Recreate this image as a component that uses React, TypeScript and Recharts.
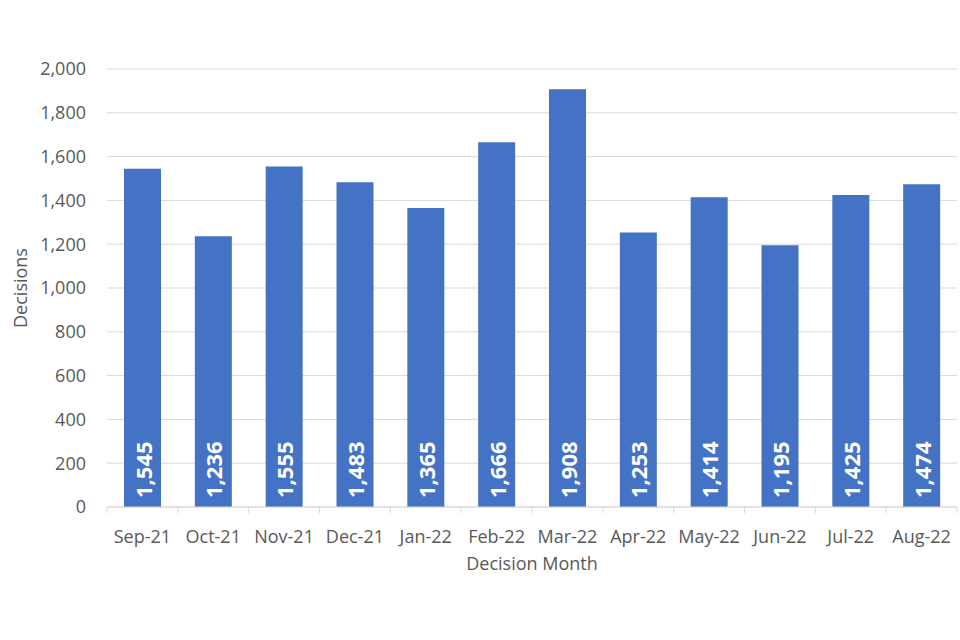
import React from 'react';
import { BarChart, Bar, XAxis, YAxis, CartesianGrid, LabelList } from 'recharts';

const months = ['Sep-21', 'Oct-21', 'Nov-21', 'Dec-21', 'Jan-22', 'Feb-22', 'Mar-22', 'Apr-22', 'May-22', 'Jun-22', 'Jul-22', 'Aug-22'];
const decisions = [1545, 1236, 1555, 1483, 1365, 1666, 1908, 1253, 1414, 1195, 1425, 1474];
const yTicks = [0, 200, 400, 600, 800, 1000, 1200, 1400, 1600, 1800, 2000];

const data = months.map((m, i) => ({ month: m, value: decisions[i] }));

const FONT = '"Open Sans", "Liberation Sans", sans-serif';
const TEXT = '#595959';
const GRID = '#d9d9d9';
const TICK_SIZE = 6;
const TICK_MARGIN = 17;
const fmt = (v: number) => v.toLocaleString('en-US');

const BarValue = (props: any) => {
  const { x, y, width, height, value } = props;
  const cx = x + width / 2;
  const by = y + height - 9;
  return (
    <text
      x={cx}
      y={by}
      transform={`rotate(-90 ${cx} ${by})`}
      textAnchor="start"
      dominantBaseline="central"
      fill="#ffffff"
      fontWeight="bold"
      fontSize={22}
      fontFamily={FONT}
    >
      {fmt(value)}
    </text>
  );
};

const MonthTick = (props: any) => {
  const { x, y, payload, index, visibleTicksCount } = props;
  const half = payload?.offset ?? 0;
  const axisY = y - TICK_SIZE - TICK_MARGIN;
  const last = index === (visibleTicksCount ?? months.length) - 1;
  return (
    <g>
      <line x1={x - half} x2={x - half} y1={axisY} y2={axisY + TICK_SIZE} stroke={GRID} />
      {last && <line x1={x + half} x2={x + half} y1={axisY} y2={axisY + TICK_SIZE} stroke={GRID} />}
      <text x={x} y={y} dy="0.71em" textAnchor="middle" fill={TEXT} fontSize={18} fontFamily={FONT}>
        {payload.value}
      </text>
    </g>
  );
};

export default function App() {
  return (
    <div style={{ position: 'absolute', left: 0, top: 0, background: '#fff' }}>
      <BarChart
        width={960}
        height={640}
        data={data}
        margin={{ top: 69, right: 3, bottom: 0, left: 0 }}
        barCategoryGap="24%"
      >
        <CartesianGrid vertical={false} stroke={GRID} strokeWidth={1} />
        <XAxis
          dataKey="month"
          tickLine={false}
          axisLine={{ stroke: GRID }}
          tickSize={TICK_SIZE}
          tickMargin={TICK_MARGIN}
          height={133}
          interval={0}
          tick={<MonthTick />}
          label={{
            value: 'Decision Month',
            position: 'insideTop',
            offset: 50,
            fill: TEXT,
            fontSize: 18,
            fontFamily: FONT,
          }}
        />
        <YAxis
          width={107}
          domain={[0, 2000]}
          ticks={yTicks}
          tickFormatter={fmt}
          tickLine={false}
          axisLine={false}
          tickMargin={15}
          tick={{ fill: TEXT, fontSize: 18, fontFamily: FONT }}
          label={{
            value: 'Decisions',
            content: (p: any) => {
              const vb = p.viewBox;
              const cx = 20;
              const cy = vb.y + vb.height / 2;
              return (
                <text
                  x={cx}
                  y={cy}
                  transform={`rotate(-90 ${cx} ${cy})`}
                  textAnchor="middle"
                  dominantBaseline="central"
                  fill={TEXT}
                  fontSize={18}
                  fontFamily={FONT}
                >
                  Decisions
                </text>
              );
            },
          }}
        />
        <Bar dataKey="value" fill="#4472C4" isAnimationActive={false}>
          <LabelList dataKey="value" content={BarValue} />
        </Bar>
      </BarChart>
    </div>
  );
}
